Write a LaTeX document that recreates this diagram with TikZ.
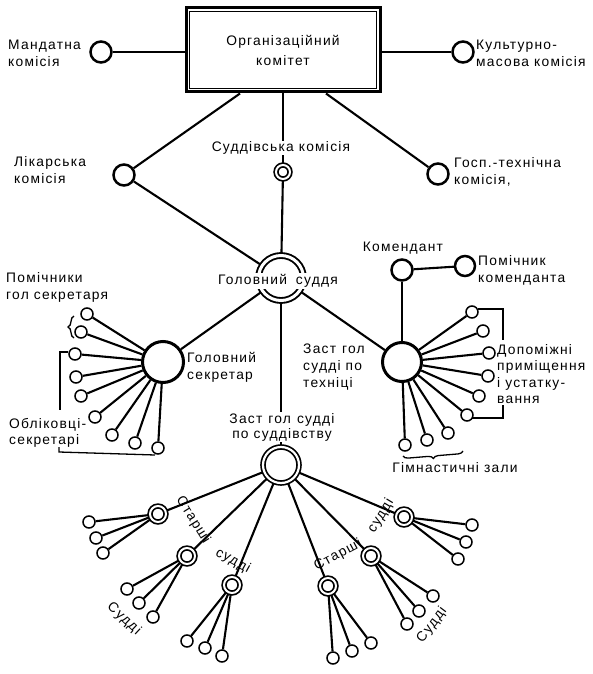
\documentclass[tikz,border=0pt]{standalone}
\usepackage{fontspec}
\setmainfont{Liberation Sans}[LetterSpace=9]
\usetikzlibrary{backgrounds,decorations.pathreplacing,calc}
\begin{document}
\begin{tikzpicture}[x=1pt,y=-1pt,
  every node/.style={font=\fontsize{13.8}{17}\selectfont},
  lbl/.style={inner sep=1pt, align=left},
  wlbl/.style={inner sep=1pt, align=center, fill=white},
  leaf/.style={circle,draw,line width=1.5pt,minimum size=12pt,inner sep=0pt,fill=white},
  midc/.style={circle,draw,line width=2.5pt,minimum size=21pt,inner sep=0pt,fill=white},
  bigc/.style={circle,draw,line width=3pt,minimum size=39pt,inner sep=0pt,fill=white},
  dbl/.style={circle,draw,double,fill=white,inner sep=0pt},
  conn/.style={line width=2.1pt},
  thinl/.style={line width=1.3pt},
]
\useasboundingbox (0,0) rectangle (593,674);

% top box
\node[draw,line width=3pt,minimum width=194pt,minimum height=84pt,inner sep=0pt,
  align=center,fill=white] (box) at (283,50) {Організаційний\\[3pt]комітет};
\draw[line width=1.4pt] ([shift={(5,5)}]box.north west) rectangle ([shift={(-5,-5)}]box.south east);
\path (box.south) ++(-43,0) coordinate (b1) ++(86,0) coordinate (b3);

% commissions
\node[midc] (mand) at (101,52) {};
\node[midc] (kult) at (463,52) {};
\node[midc] (lik) at (124,175) {};
\node[midc] (gosp) at (438,174) {};
\node[dbl,minimum size=14pt,line width=1.7pt,double distance=2pt] (sudkom) at (283,172) {};
\node[lbl,anchor=west] (tmand) at (7,53) {Мандатна\\комісія};
\node[lbl,anchor=west] (tkult) at (475,53) {Культурно-\\масова комісія};
\node[lbl,anchor=west] (tlik) at (13,170) {Лікарська\\комісія};
\node[lbl,anchor=west] (tgosp) at (453,172) {Госп.-технічна\\комісія,};
\node[wlbl] (tsudkom) at (281,148) {Суддівська комісія};

% chief judge
\node[dbl,minimum size=45pt,line width=1.9pt,double distance=3pt] (chief) at (281,278) {};
\node[wlbl] (tchief) at (278,281) {Головний\hspace{9pt}суддя};

% secretary
\node[bigc,minimum size=41pt] (sec) at (163,362) {};
\node[lbl,anchor=west] (tsec) at (186,367) {Головний\\секретар};

% deputy technical
\node[bigc] (tech) at (402,362) {};
\node[lbl,anchor=west] (ttech) at (302,367) {Заст\hspace{6pt}гол\\судді по\\техніці};
\node[midc] (kom) at (402,270) {};
\node[midc,minimum size=20pt] (pkom) at (465,266) {};
\node (tkom) at (403,248) {Комендант};
\node[lbl,anchor=west] (tpkom) at (477,270) {Помічник\\коменданта};

% deputy judging
\node[dbl,minimum size=36pt,line width=1.7pt,double distance=2.2pt] (zsud) at (281,465) {};
\node[wlbl,font=\fontsize{13.8}{15}\selectfont] (tzsud) at (282,427) {Заст\hspace{6pt}гол\hspace{6pt}судді\\по суддівству};

\begin{scope}[on background layer]
\draw[conn] (mand) -- (mand -| box.west);
\draw[conn] (kult) -- (kult -| box.east);
\draw[conn] (b1) -- (lik);
\draw[conn] (b3) -- (gosp);
\draw[conn] (sudkom |- box.south) -- (sudkom);
\draw[conn] (lik) -- (chief);
\draw[conn] (sudkom) -- (chief);
\draw[conn] (chief) -- (sec);
\draw[conn] (chief) -- (tech);
\draw[conn] (chief) -- (zsud);
\draw[conn] (kom) -- (tech);
\draw[conn] (kom) -- (pkom);
\end{scope}

% secretary leaves
\foreach \i/\x/\y in {1/87/314,2/81/332,3/75/354,4/76/377,5/81/396,6/95/417,7/112/435,8/135/443,9/158/448}{
  \node[leaf] (sl\i) at (\x,\y) {};
  \begin{pgfonlayer}{background}\draw[conn] (sec) -- (sl\i);\end{pgfonlayer}
}
% technical leaves
\foreach \i/\x/\y in {1/472/312,2/483/331,3/489/353,4/488/376,5/479/396,6/467/415,7/448/433,8/427/440,9/405/445}{
  \node[leaf] (tl\i) at (\x,\y) {};
  \begin{pgfonlayer}{background}\draw[conn] (tech) -- (tl\i);\end{pgfonlayer}
}

% senior judges
\foreach \i/\x/\y in {1/158/514,2/187/556,3/232/585,4/328/586,5/371/556,6/404/517}{
  \node[dbl,minimum size=16pt,line width=1.7pt,double distance=2pt] (s\i) at (\x,\y) {};
  \begin{pgfonlayer}{background}\draw[conn] (zsud) -- (s\i);\end{pgfonlayer}
}
% judges
\foreach \s/\j/\x/\y in {1/a/89/522,1/b/96/538,1/c/103/553,
                         2/a/127/589,2/b/139/603,2/c/153/617,
                         3/a/187/641,3/b/205/648,3/c/222/656,
                         4/a/333/658,4/b/352/651,4/c/371/643,
                         5/a/407/624,5/b/419/611,5/c/433/596,
                         6/a/458/559,6/b/466/542,6/c/472/525}{
  \node[leaf] (j\s\j) at (\x,\y) {};
  \begin{pgfonlayer}{background}\draw[conn] (s\s) -- (j\s\j);\end{pgfonlayer}
}

% group labels
\node[lbl,anchor=west] (tpom) at (5,287) {Помічники\\гол секретаря};
\node[lbl,anchor=west,font=\fontsize{13.8}{16}\selectfont] (tobl) at (8,433) {Обліковці-\\секретарі};
\node[lbl,anchor=west,font=\fontsize{13.8}{16.3}\selectfont] (tdop) at (496,374) {Допоміжні\\приміщення\\і устатку-\\вання};
\node (tgym) at (455,468) {Гімнастичні зали};

\node[rotate=-58,inner sep=0pt] (tst1) at (193,520) {Старші};
\node[rotate=-29,inner sep=0pt] (tsd1) at (233,561) {судді};
\node[rotate=-43,inner sep=0pt] (tsu1) at (124,619) {Судді};
\node[rotate=28,inner sep=0pt] (tst2) at (338,555) {Старші};
\node[rotate=59,inner sep=0pt] (tsd2) at (381,516) {судді};
\node[rotate=53,inner sep=0pt] (tsu2) at (432,625) {Судді};

% brackets and braces
\draw[thinl] (68,352) -- (60,352) -- (60,410);
\draw[thinl] (59,447) -- (59,452) -- (155,455);
\draw[thinl] (478,309) -- (503,309) -- (503,340);
\draw[thinl] (503,405) -- (503,418) -- (472,418);
\draw[thinl,decorate,decoration={brace,amplitude=6pt}] (74,338) -- (74,316);
\draw[thinl,decorate,decoration={brace,amplitude=5pt}] (463,451) -- (403,456);
\end{tikzpicture}
\end{document}
